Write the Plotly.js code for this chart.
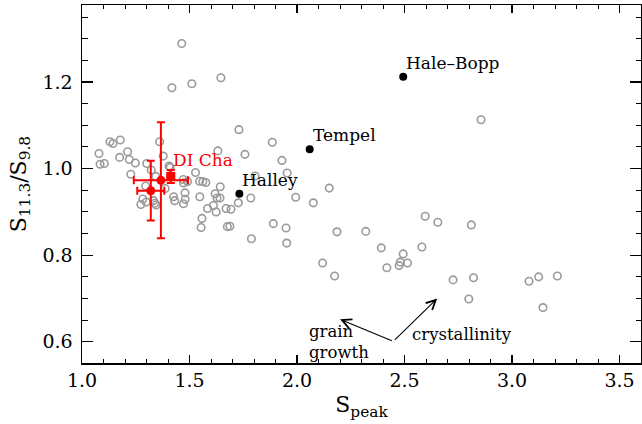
<!DOCTYPE html>
<html>
<head>
<meta charset="utf-8">
<script src="https://cdn.plot.ly/plotly-3.0.1.min.js"></script>
<style>html,body{margin:0;padding:0;background:#fff;}</style>
</head>
<body>
<div id="chart" style="width:642px;height:424px;"></div>
<script>
// Sample of disks (gray open circles)
const diskSpeak = [1.464,1.418,1.511,1.646,1.730,1.885,2.856,1.361,1.130,1.144,1.178,1.079,1.212,1.084,1.104,1.175,1.220,1.248,1.378,1.301,1.227,1.322,1.405,1.410,1.528,1.343,1.471,1.491,1.472,1.547,1.562,1.576,1.643,1.632,1.758,1.930,1.954,1.805,1.296,1.387,1.479,1.619,1.628,1.642,1.548,1.480,1.472,1.426,1.431,1.283,1.299,1.274,1.333,1.339,1.345,1.584,1.611,1.624,1.670,1.693,1.558,1.554,1.676,1.688,1.727,1.785,1.788,1.890,1.949,1.952,1.994,2.076,2.150,2.119,2.175,2.186,2.320,2.392,2.418,2.475,2.480,2.494,2.514,2.581,2.596,2.655,2.811,2.726,2.821,2.799,3.079,3.124,3.211,3.144];
const diskRatio = [1.289,1.187,1.196,1.210,1.090,1.061,1.113,1.062,1.062,1.058,1.066,1.035,1.039,1.010,1.012,1.026,1.021,1.013,1.029,1.012,0.987,0.997,1.006,1.003,0.991,0.982,0.975,0.970,0.967,0.971,0.970,0.968,0.958,1.041,1.033,1.019,0.990,0.983,0.960,0.954,0.944,0.942,0.932,0.932,0.935,0.929,0.919,0.935,0.926,0.930,0.923,0.917,0.926,0.920,0.916,0.908,0.915,0.900,0.908,0.906,0.885,0.864,0.866,0.867,0.921,0.932,0.838,0.873,0.863,0.828,0.934,0.921,0.955,0.782,0.752,0.854,0.855,0.817,0.771,0.776,0.784,0.803,0.782,0.819,0.890,0.876,0.870,0.743,0.748,0.699,0.740,0.750,0.752,0.679];

// Comets
const cometNames = ["Hale\u2013Bopp","Tempel","Halley"];
const cometSpeak = [2.494,2.059,1.732];
const cometRatio = [1.212,1.045,0.942];

// DI Cha (circles) and DI Cha (square)
const diChaSpeak = [1.367,1.320];
const diChaRatio = [0.973,0.949];
const diChaSpeakErr = [0.126,0.063];
const diChaRatioErr = [0.134,0.069];
const diChaSqSpeak = [1.413];
const diChaSqRatio = [0.982];
const diChaSqSpeakErr = [0.015];
const diChaSqRatioErr = [0.015];
const diChaLabel = "DI Cha";

// Trend arrows: common tail, heads
const arrowTailX = [2.448, 2.448];
const arrowTailY = [0.601, 0.601];
const arrowHeadX = [2.200, 2.652];
const arrowHeadY = [0.652, 0.700];
const trendLabels = ["grain<br>growth","crystallinity"];
const trendLabelX = [2.045, 2.525];
const trendLabelY = [0.600, 0.617];

const FONT = "DejaVu Serif";

const traces = [
  {
    x: diskSpeak, y: diskRatio, type: "scatter", mode: "markers",
    marker: {symbol: "circle-open", size: 7.5, color: "#9a9a9a", line: {width: 1.6, color: "#9a9a9a"}},
    hoverinfo: "skip", showlegend: false
  },
  {
    x: cometSpeak, y: cometRatio, type: "scatter", mode: "markers",
    marker: {symbol: "circle", size: 8, color: "#000"},
    hoverinfo: "skip", showlegend: false
  },
  {
    x: diChaSpeak, y: diChaRatio, type: "scatter", mode: "markers",
    marker: {symbol: "circle", size: 9, color: "#ff0000"},
    error_x: {type: "data", array: diChaSpeakErr, visible: true, color: "#ff0000", thickness: 2, width: 4},
    error_y: {type: "data", array: diChaRatioErr, visible: true, color: "#ff0000", thickness: 2, width: 4},
    hoverinfo: "skip", showlegend: false
  },
  {
    x: diChaSqSpeak, y: diChaSqRatio, type: "scatter", mode: "markers",
    marker: {symbol: "square", size: 9, color: "#ff0000"},
    error_x: {type: "data", array: diChaSqSpeakErr, visible: true, color: "#ff0000", thickness: 2, width: 4},
    error_y: {type: "data", array: diChaSqRatioErr, visible: true, color: "#ff0000", thickness: 2, width: 4},
    hoverinfo: "skip", showlegend: false
  }
];

const annotations = [];
cometNames.forEach((n, i) => {
  annotations.push({
    x: cometSpeak[i], y: cometRatio[i], xref: "x", yref: "y", text: n,
    showarrow: false, xanchor: "left", yanchor: "bottom", xshift: 1, yshift: 2,
    font: {family: FONT, size: 17, color: "#000"}
  });
});
annotations.push({
  x: diChaSqSpeak[0], y: diChaSqRatio[0], xref: "x", yref: "y", text: diChaLabel,
  showarrow: false, xanchor: "left", yanchor: "bottom", xshift: 0, yshift: 4,
  font: {family: FONT, size: 17, color: "#ff0000"}
});
for (let i = 0; i < arrowHeadX.length; i++) {
  annotations.push({
    x: arrowHeadX[i], y: arrowHeadY[i], ax: arrowTailX[i], ay: arrowTailY[i],
    xref: "x", yref: "y", axref: "x", ayref: "y", text: "",
    showarrow: true, arrowhead: 5, arrowsize: 1.7, arrowwidth: 1.1, arrowcolor: "#000"
  });
}
trendLabels.forEach((t, i) => {
  annotations.push({
    x: trendLabelX[i], y: trendLabelY[i], xref: "x", yref: "y", text: t,
    showarrow: false, xanchor: "left", yanchor: "middle", align: "left",
    font: {family: FONT, size: 16.5, color: "#000"}
  });
});

const layout = {
  width: 642, height: 424,
  margin: {l: 82, r: 1, t: 5, b: 61},
  paper_bgcolor: "#fff", plot_bgcolor: "#fff",
  font: {family: FONT, color: "#000"},
  showlegend: false,
  xaxis: {
    range: [1.0, 3.6], dtick: 0.5, tick0: 1.0, tickformat: ".1f",
    ticks: "inside", ticklen: 8, tickwidth: 1.2, tickcolor: "#000",
    minor: {dtick: 0.1, ticks: "inside", ticklen: 4, tickwidth: 1, tickcolor: "#000"},
    showline: true, linecolor: "#000", linewidth: 1.5, mirror: "allticks",
    showgrid: false, zeroline: false,
    tickfont: {family: FONT, size: 19, color: "#000"},
    title: {text: "S<sub>peak</sub>", font: {family: FONT, size: 22, color: "#000"}, standoff: 6}
  },
  yaxis: {
    range: [0.551, 1.378], dtick: 0.2, tick0: 0.6, tickformat: ".1f",
    ticks: "inside", ticklen: 11, tickwidth: 1.2, tickcolor: "#000",
    minor: {dtick: 0.05, ticks: "inside", ticklen: 5.5, tickwidth: 1, tickcolor: "#000"},
    showline: true, linecolor: "#000", linewidth: 1.5, mirror: "allticks",
    showgrid: false, zeroline: false,
    tickfont: {family: FONT, size: 19, color: "#000"},
    ticklabelstandoff: 4,
    title: {text: "S<sub>11.3</sub>/S<sub>9.8</sub>", font: {family: FONT, size: 22, color: "#000"}, standoff: 10}
  },
  annotations: annotations
};

Plotly.newPlot("chart", traces, layout, {displayModeBar: false, staticPlot: true});
</script>
</body>
</html>
